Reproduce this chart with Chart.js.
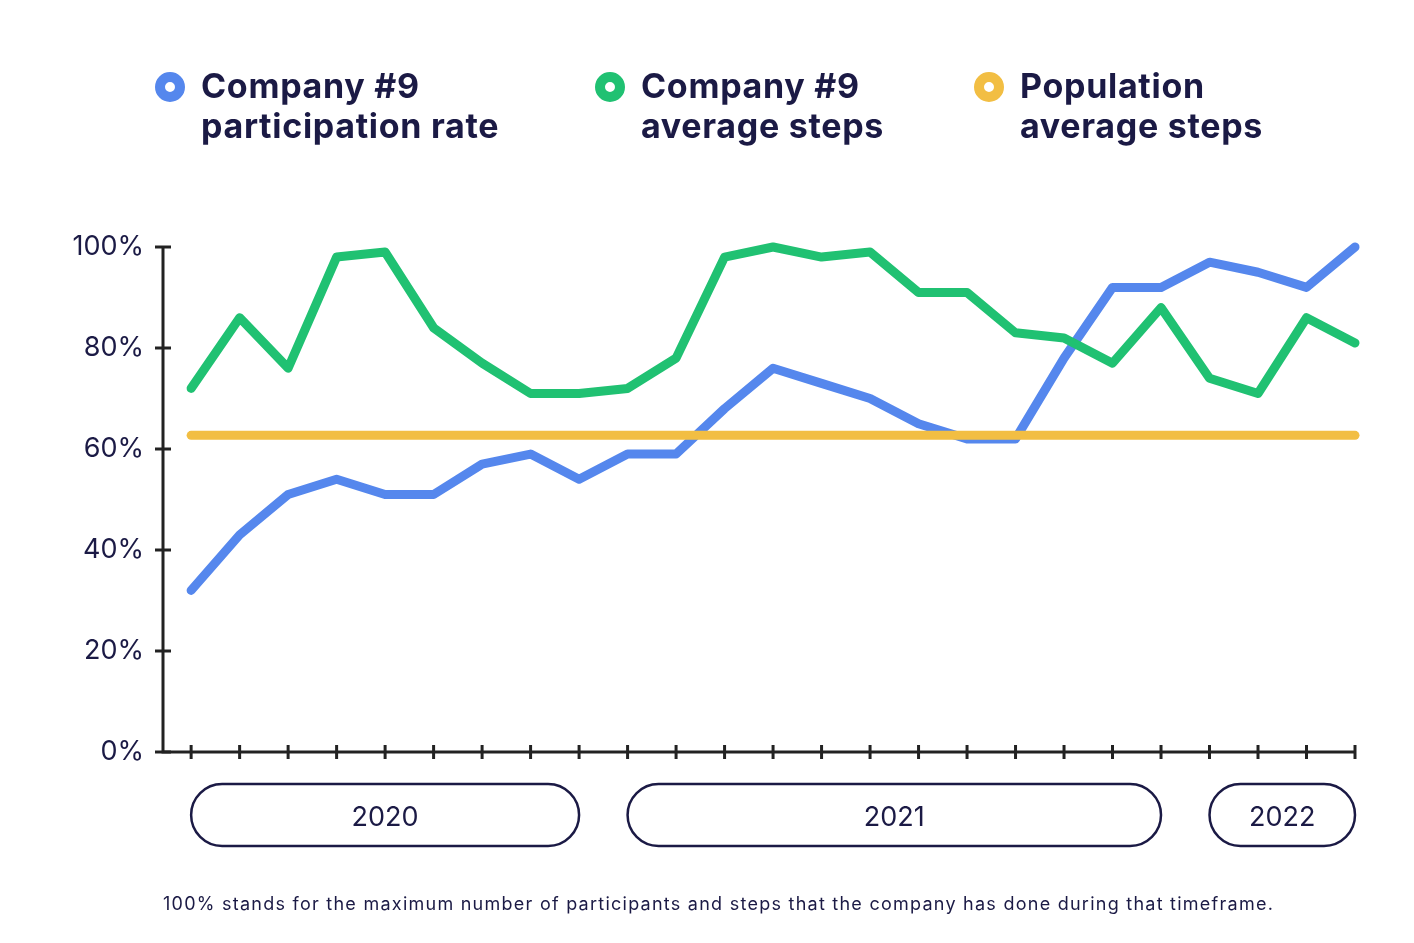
<!DOCTYPE html>
<html>
<head>
<meta charset="utf-8">
<script src="https://cdn.jsdelivr.net/npm/chart.js@4/dist/chart.umd.min.js"></script>
<style>
  html, body { margin: 0; padding: 0; background: #fff; }
  #wrap { position: relative; width: 1414px; height: 943px; }
  #legend { position: absolute; top: 0; left: 0; width: 100%; height: 160px; }
  .leg { position: absolute; top: 66px; font-family: Inter, sans-serif; font-weight: 700;
         font-size: 34px; letter-spacing: 0.7px; line-height: 40px; color: #1b1a45; }
  .leg .dot { position: absolute; left: -46px; top: 6px; width: 10px; height: 10px;
              border-radius: 50%; border: 10px solid; background: #fff; }
  #foot { position: absolute; left: 163px; top: 893px; font-family: Inter, sans-serif;
          font-size: 18px; letter-spacing: 1.25px; color: #1b1a45; }
</style>
</head>
<body>
<div id="wrap">
  <canvas id="kaavio" width="1414" height="943"></canvas>
  <div id="legend"></div>
  <div id="foot">100% stands for the maximum number of participants and steps that the company has done during that timeframe.</div>
</div>
<script>
// kuukaudet: huhti 2020 – huhti 2022
const kuukaudet = [
  'Apr 2020','May 2020','Jun 2020','Jul 2020','Aug 2020','Sep 2020','Oct 2020','Nov 2020','Dec 2020',
  'Jan 2021','Feb 2021','Mar 2021','Apr 2021','May 2021','Jun 2021','Jul 2021','Aug 2021','Sep 2021',
  'Oct 2021','Nov 2021','Dec 2021',
  'Jan 2022','Feb 2022','Mar 2022','Apr 2022'
];
const vuodet = ['2020', '2021', '2022'];
const yTicks = [0, 20, 40, 60, 80, 100];

const osallistuminen = [32, 43, 51, 54, 51, 51, 57, 59, 54, 59, 59, 68, 76, 73, 70, 65, 62, 62, 78, 92, 92, 97, 95, 92, 100];
const askeleet = [72, 86, 76, 98, 99, 84, 77, 71, 71, 72, 78, 98, 100, 98, 99, 91, 91, 83, 82, 77, 88, 74, 71, 86, 81];
const populaatio = [62.7, 62.7, 62.7, 62.7, 62.7, 62.7, 62.7, 62.7, 62.7, 62.7, 62.7, 62.7, 62.7, 62.7, 62.7, 62.7, 62.7, 62.7, 62.7, 62.7, 62.7, 62.7, 62.7, 62.7, 62.7];

const nimet = [['Company #9', 'participation rate'], ['Company #9', 'average steps'], ['Population', 'average steps']];
const varit = ['#5587ed', '#20c172', '#f2be43'];
const tumma = '#1b1a45';

// legenda
const legX = [201, 641, 1020];
nimet.forEach((n, i) => {
  const d = document.createElement('div');
  d.className = 'leg';
  d.style.left = legX[i] + 'px';
  d.innerHTML = '<span class="dot" style="border-color:' + varit[i] + '"></span>' + n.join('<br>');
  document.getElementById('legend').appendChild(d);
});

const pisteet = arr => arr.map((v, i) => ({ x: i, y: v }));

// akselit, tikit ja vuosipillerit
const akseliPlugin = {
  id: 'akselit',
  afterDraw(chart) {
    const { ctx, scales: { x, y } } = chart;
    const x0 = x.left, y0 = y.getPixelForValue(0);
    ctx.save();
    ctx.strokeStyle = '#222';
    ctx.lineWidth = 3;
    ctx.beginPath();
    ctx.moveTo(x0, y.getPixelForValue(100));
    ctx.lineTo(x0, y0);
    ctx.lineTo(x.getPixelForValue(kuukaudet.length - 1), y0);
    ctx.stroke();
    yTicks.forEach(t => {
      const py = y.getPixelForValue(t);
      ctx.beginPath(); ctx.moveTo(x0 - 8, py); ctx.lineTo(x0 + 8, py); ctx.stroke();
    });
    kuukaudet.forEach((k, i) => {
      const px = x.getPixelForValue(i);
      ctx.beginPath(); ctx.moveTo(px, y0 - 7); ctx.lineTo(px, y0 + 7); ctx.stroke();
    });

    // vuosipillerit
    vuodet.forEach(v => {
      const idx = kuukaudet.map((k, i) => k.endsWith(v) ? i : -1).filter(i => i >= 0);
      const xa = x.getPixelForValue(idx[0]), xb = x.getPixelForValue(idx[idx.length - 1]);
      const top = y0 + 32, h = 62, r = h / 2;
      ctx.beginPath();
      ctx.roundRect(xa, top, xb - xa, h, r);
      ctx.strokeStyle = tumma;
      ctx.lineWidth = 2.5;
      ctx.stroke();
      ctx.fillStyle = tumma;
      ctx.font = '27px Inter, sans-serif';
      ctx.textAlign = 'center';
      ctx.textBaseline = 'middle';
      ctx.fillText(v, (xa + xb) / 2, top + r + 3);
    });
    ctx.restore();
  }
};

const viiva = (data, vari) => ({
  data: pisteet(data),
  borderColor: vari,
  borderWidth: 9,
  borderCapStyle: 'round',
  borderJoinStyle: 'round',
  pointRadius: 0,
  tension: 0,
  clip: false
});

new Chart(document.getElementById('kaavio'), {
  type: 'line',
  data: {
    datasets: [
      viiva(populaatio, varit[2]),
      viiva(askeleet, varit[1]),
      viiva(osallistuminen, varit[0])
    ]
  },
  options: {
    responsive: false,
    animation: false,
    layout: { padding: { top: 247, right: 59, left: 0, bottom: 0 } },
    plugins: { legend: { display: false }, tooltip: { enabled: false } },
    scales: {
      x: {
        type: 'linear',
        min: -0.58,
        max: kuukaudet.length - 1,
        grid: { display: false },
        border: { display: false },
        ticks: { display: false },
        afterFit: s => { s.height = 191; }
      },
      y: {
        min: 0,
        max: 100,
        grid: { display: false },
        border: { display: false },
        afterBuildTicks: s => { s.ticks = yTicks.map(v => ({ value: v })); },
        afterFit: s => { s.width = 163; },
        ticks: {
          padding: 11,
          color: tumma,
          font: { family: 'Inter', size: 27 },
          callback: v => v + '%'
        }
      }
    }
  },
  plugins: [akseliPlugin]
});
</script>
</body>
</html>
